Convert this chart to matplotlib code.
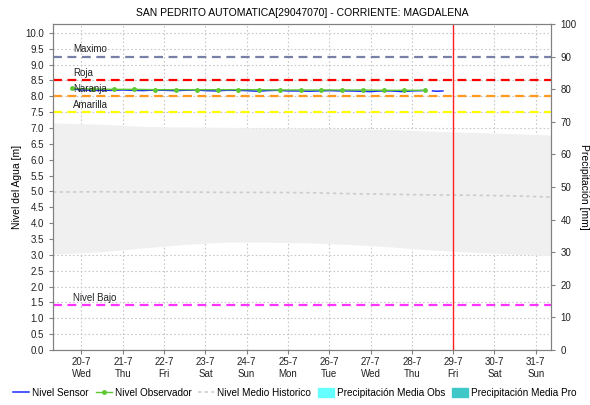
import matplotlib.pyplot as plt
from matplotlib.lines import Line2D
from matplotlib.patches import Patch

plt.rcParams['font.family'] = ['Liberation Sans', 'DejaVu Sans']

titulo = 'SAN PEDRITO AUTOMATICA[29047070] - CORRIENTE: MAGDALENA'

# dias del eje x (0 = 20-7)
dias = ['20-7\nWed', '21-7\nThu', '22-7\nFri', '23-7\nSat', '24-7\nSun', '25-7\nMon',
        '26-7\nTue', '27-7\nWed', '28-7\nThu', '29-7\nFri', '30-7\nSat', '31-7\nSun']

# umbrales [m]
umbral_nombres = ['Maximo', 'Roja', 'Naranja', 'Amarilla', 'Nivel Bajo']
umbral_valores = [9.25, 8.52, 8.01, 7.50, 1.42]
umbral_colores = ['#7880a8', '#ff0000', '#ff9a1f', '#ffff00', '#ff33ff']

# nivel observador (dos lecturas diarias)
obs_t = [-0.23, 0.28, 0.78, 1.28, 1.79, 2.29, 2.79, 3.30, 3.80, 4.30, 4.80, 5.31,
         5.81, 6.31, 6.81, 7.32, 7.82, 8.32]
obs_v = [8.25, 8.23, 8.22, 8.22, 8.21, 8.21, 8.21, 8.21, 8.21, 8.21, 8.20, 8.20,
         8.20, 8.20, 8.20, 8.19, 8.19, 8.19]

# nivel sensor
sen_t = [-0.23, 0.0, 0.25, 0.5, 0.75, 1.0, 1.25, 1.5, 1.75, 2.0, 2.25, 2.5, 2.75,
         3.0, 3.25, 3.5, 3.75, 4.0, 4.25, 4.5, 4.75, 5.0, 5.25, 5.5, 5.75, 6.0,
         6.25, 6.5, 6.75, 7.0, 7.25, 7.5, 7.75, 8.0, 8.25, 8.4, 8.5, 8.6, 8.75]
sen_v = [8.24, 8.20, 8.19, 8.19, 8.19, 8.20, 8.19, 8.18, 8.20, 8.19, 8.18, 8.19, 8.20,
         8.18, 8.17, 8.19, 8.19, 8.18, 8.16, 8.18, 8.19, 8.17, 8.17, 8.16, 8.17, 8.18,
         8.17, 8.17, 8.16, 8.15, 8.17, 8.17, 8.15, 8.17, 8.18, float('nan'), 8.17, 8.16, 8.17]

# historico: banda min-max y nivel medio
hist_t = [-0.69, 0.5, 1.5, 2.5, 3.5, 4.5, 5.5, 6.5, 7.5, 8.5, 9.5, 10.5, 11.38]
hist_min = [3.02, 3.10, 3.22, 3.33, 3.40, 3.40, 3.38, 3.33, 3.25, 3.15, 3.08, 3.02, 2.98]
hist_max = [7.16, 7.12, 7.05, 7.03, 7.02, 7.00, 7.00, 6.98, 6.95, 6.90, 6.86, 6.82, 6.78]
hist_med = [4.98, 4.99, 4.98, 4.98, 4.97, 4.97, 4.96, 4.93, 4.91, 4.89, 4.88, 4.86, 4.82]

dia_actual = 9.0

fig = plt.figure(figsize=(5.9, 4.05), dpi=100)
ax = fig.add_axes([0.0898, 0.1358, 0.8449, 0.8049])
ax2 = ax.twinx()

gris = '#808080'
ax.fill_between(hist_t, hist_min, hist_max, color='#f0f0f0', lw=0, zorder=1)
ax.plot(hist_t, hist_med, color='#cccccc', lw=1.2, ls=(0, (2, 2)), zorder=2)

for nombre, valor, color in zip(umbral_nombres, umbral_valores, umbral_colores):
    ax.axhline(valor, color=color, lw=1.6, ls=(0, (4, 2.5)), zorder=3, clip_on=False)
    ax.text(-0.2, valor + 0.07, nombre, fontsize=7, color='#222222',
            ha='left', va='bottom', zorder=6)

ax.plot(sen_t, sen_v, color='#1a2cff', lw=1.1, zorder=4)
ax.plot(obs_t, obs_v, color='#5ec832', lw=1.0, marker='o', ms=2.5, zorder=5)
ax.axvline(dia_actual, color='#ff2020', lw=1.0, zorder=6)

ax.set_xlim(-0.69, 11.38)
ax.set_ylim(0, 10.28)
ax.set_xticks(range(len(dias)))
ax.set_xticklabels(dias, fontsize=7)
ax.tick_params(axis='x', pad=2)
ax.set_yticks([i * 0.5 for i in range(21)])
ax.set_yticklabels([f'{i * 0.5:.1f}' for i in range(21)], fontsize=7)
ax.grid(True, color='#c8c8c8', ls=(0, (1.5, 2)), lw=0.8)
ax.set_axisbelow(True)
ax.set_ylabel('Nivel del Agua [m]', fontsize=7.5, labelpad=2)

ax2.set_ylim(0, 100)
ax2.set_yticks(range(0, 101, 10))
ax2.tick_params(labelsize=7)
ax2.set_ylabel('Precipitación [mm]', fontsize=7.5, rotation=270, labelpad=9)

for a in (ax, ax2):
    for s in a.spines.values():
        s.set_color(gris)
    a.tick_params(colors=gris, labelcolor='#222222', length=3, width=0.8)

ax.set_title(titulo, fontsize=7.5, pad=6)

handles = [
    Line2D([], [], color='#1a2cff', lw=1.1),
    Line2D([], [], color='#5ec832', lw=1.0, marker='o', ms=2.5),
    Line2D([], [], color='#cccccc', lw=1.2, ls=(0, (2, 2))),
    Patch(color='#66ffff'),
    Patch(color='#40c8c8'),
]
labels = ['Nivel Sensor', 'Nivel Observador', 'Nivel Medio Historico',
          'Precipitación Media Obs', 'Precipitación Media Pro']
fig.legend(handles, labels, loc='center', bbox_to_anchor=(0.5, 0.03), ncol=5,
           frameon=False, fontsize=7.2, handlelength=1.6, handletextpad=0.3,
           columnspacing=0.7, handleheight=0.9)

fig.savefig('out.png', dpi=100)
